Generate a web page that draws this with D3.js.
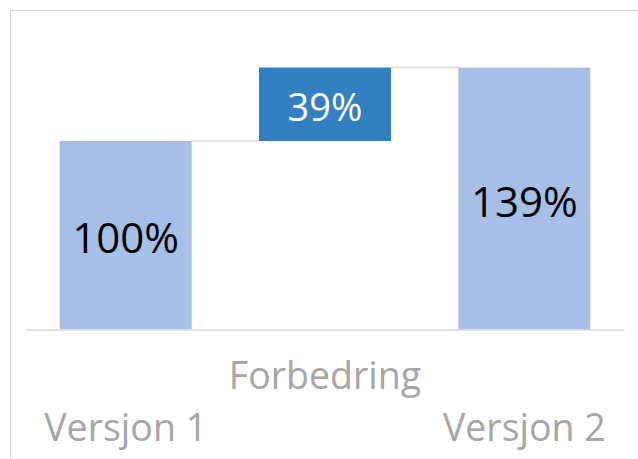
<!DOCTYPE html>
<html>
<head>
<meta charset="utf-8">
<script src="https://cdn.jsdelivr.net/npm/d3@7"></script>
<style>
  body { margin: 0; background: #fff; }
  text { font-family: "Open Sans", sans-serif; }
</style>
</head>
<body>
<svg id="chart" width="638" height="459"></svg>
<script>
const categories = ['Versjon 1', 'Forbedring', 'Versjon 2']
const values = [100, 39, 139]
const bases = [0, 100, 0]
const labels = ['100%', '39%', '139%']
const colors = ['#a6bfe6', '#327fc2', '#a6bfe6']

const width = 638
const height = 459
const margin = {top: 67.5, right: 14, bottom: 129.5, left: 26}

const svg = d3.select('#chart')

// chart border (cropped at right/bottom)
svg.append('rect')
  .attr('x', 10.5).attr('y', 10.5)
  .attr('width', 700).attr('height', 700)
  .attr('fill', 'none')
  .attr('stroke', '#d9d9d9')

const xScale = d3.scaleBand()
  .domain(categories)
  .range([margin.left, width - margin.right])
  .paddingInner(0.338)
  .paddingOuter(0.169)

const yScale = d3.scaleLinear()
  .domain([0, 139])
  .range([height - margin.bottom, margin.top])

const data = categories.map((c, i) => ({cat: c, base: bases[i], value: values[i], label: labels[i], color: colors[i]}))

// connector lines
svg.selectAll('line.conn')
  .data(data.slice(0, -1))
  .enter()
  .append('line')
  .attr('class', 'conn')
  .attr('x1', d => xScale(d.cat) + xScale.bandwidth())
  .attr('x2', (d, i) => xScale(categories[i + 1]))
  .attr('y1', d => yScale(d.base + d.value))
  .attr('y2', d => yScale(d.base + d.value))
  .attr('stroke', '#d9d9d9')
  .attr('stroke-width', 1.5)

svg.selectAll('rect.bar')
  .data(data)
  .enter()
  .append('rect')
  .attr('class', 'bar')
  .attr('x', d => xScale(d.cat))
  .attr('y', d => yScale(d.base + d.value))
  .attr('width', xScale.bandwidth())
  .attr('height', d => yScale(d.base) - yScale(d.base + d.value))
  .attr('fill', d => d.color)

svg.selectAll('text.val')
  .data(data)
  .enter()
  .append('text')
  .attr('class', 'val')
  .attr('x', d => xScale(d.cat) + xScale.bandwidth() / 2)
  .attr('y', d => (yScale(d.base) + yScale(d.base + d.value)) / 2 + 3)
  .attr('dy', '0.36em')
  .attr('text-anchor', 'middle')
  .attr('font-size', (d, i) => i === 1 ? 38 : 42)
  .attr('fill', (d, i) => i === 1 ? '#ffffff' : '#000000')
  .text(d => d.label)

// x axis with staggered labels
const xAxis = d3.axisBottom(xScale).tickSize(0).tickPadding(0)
const gx = svg.append('g')
  .attr('transform', 'translate(0,' + yScale(0) + ')')
  .call(xAxis)
gx.select('.domain').attr('stroke', '#d9d9d9').attr('stroke-width', 1.5)
gx.selectAll('.tick text')
  .attr('font-family', '"Open Sans", sans-serif')
  .attr('font-size', 37.5)
  .attr('fill', '#a6a6a6')
  .attr('dy', null)
  .attr('y', (d, i) => i % 2 === 1 ? 59 : 111)
</script>
</body>
</html>
